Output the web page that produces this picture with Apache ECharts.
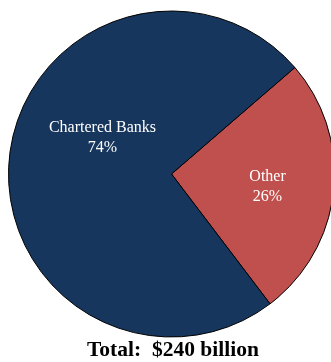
<!DOCTYPE html>
<html>
<head>
<meta charset="utf-8">
<script src="https://cdn.jsdelivr.net/npm/echarts@6/dist/echarts.min.js"></script>
<style>
html,body{margin:0;padding:0;background:#fff;}
#c{width:331px;height:362px;}
</style>
</head>
<body>
<div id="c"></div>
<script>
var categories = ['Other', 'Chartered Banks'];
var shares = [26, 74];
var sliceColors = ['#c0504d', '#17365d'];
var titleText = 'Total:  $240 billion';

var labelOffsets = [[12, 4], [15, -27]];

var chart = echarts.init(document.getElementById('c'), null, {renderer: 'canvas'});
chart.setOption({
  animation: false,
  title: {
    text: titleText,
    left: 87,
    top: 339,
    padding: 0,
    textStyle: {fontFamily: 'Liberation Serif', fontWeight: 'bold', fontSize: 21.5, color: '#000'}
  },
  series: [{
    type: 'pie',
    center: [171.5, 174],
    radius: [0, 163],
    startAngle: 40.8,
    clockwise: true,
    label: {
      show: true,
      position: 'inside',
      formatter: '{b}\n{c}%',
      color: '#fff',
      fontFamily: 'Liberation Serif',
      fontSize: 16,
      lineHeight: 20
    },
    labelLine: {show: false},
    itemStyle: {borderColor: '#000', borderWidth: 1},
    emphasis: {disabled: true},
    data: categories.map(function (n, i) {
      return {name: n, value: shares[i], itemStyle: {color: sliceColors[i]}, label: {offset: labelOffsets[i]}};
    })
  }]
});
</script>
</body>
</html>
